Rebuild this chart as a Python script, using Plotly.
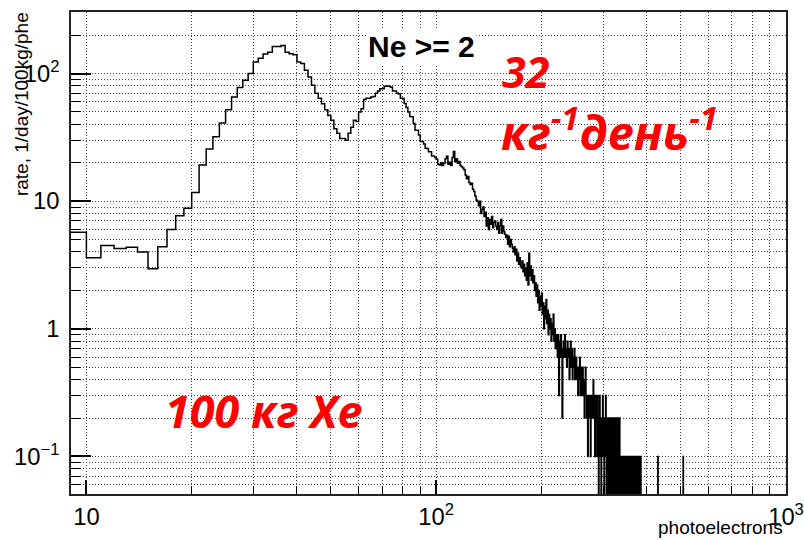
import plotly.graph_objects as go

# ---------------- data (1-phe wide bins, lower edges from 9) ----------------
first_bin = 9
last_edge = 1000

rate_9_19 = [5.7, 3.6, 4.5, 4.25, 4.35, 4.0, 2.95, 4.4, 6.0, 7.7, 8.8]
rate_20_29 = [11.7, 19.2, 25.6, 32, 41, 52, 65.6, 77.6, 88.7, 100]
rate_30_39 = [123, 132, 142, 147, 163, 163, 166, 147, 143, 140]
rate_40_49 = [123, 120, 106, 94, 81, 70, 64, 58, 52, 47]
rate_50_59 = [43, 37, 34, 31, 31, 30, 34, 38, 43, 42]
rate_60_69 = [50, 53, 62.7, 64, 64, 65.6, 66, 70, 73, 76]
rate_70_79 = [76, 79.6, 80, 79.6, 78, 73, 73, 70, 69, 64]
rate_80_89 = [63.8, 58.3, 54.2, 50, 46, 45.8, 40.6, 36, 36, 33]
rate_90_99 = [29.3, 29.3, 28, 26, 25.9, 24.4, 24.4, 22.6, 22.6, 22]
rate_100_109 = [21.3, 19.5, 19.2, 20.0, 19.0, 19.8, 21.5, 22.5, 19.5, 20.2]
rate_110_119 = [19.0, 22.0, 24.5, 20.5, 21.5, 19.8, 20.5, 19.0, 18.6, 18.2]
rate_120_129 = [17.6, 16.0, 15.0, 15.6, 14.0, 13.5, 13.8, 12.4, 11.9, 11.0]
rate_130_139 = [10.2, 10.0, 9.2, 10.0, 8.0, 8.6, 9.0, 7.6, 8.2, 6.4]
rate_140_149 = [7.4, 6.0, 7.2, 6.6, 7.6, 6.2, 6.8, 7.0, 6.4, 6.0]
rate_150_159 = [6.8, 5.6, 6.4, 7.2, 5.6, 6.4, 5.8, 5.5, 5.2, 5.4]
rate_160_169 = [4.6, 5.3, 4.4, 5.0, 4.6, 4.3, 4.0, 4.4, 3.8, 4.2]
rate_170_179 = [3.4, 3.9, 3.2, 3.6, 3.1, 3.0, 3.4, 2.8, 3.2, 2.6]
rate_180_189 = [3.0, 2.4, 3.3, 2.2, 3.9, 2.6, 3.1, 2.4, 2.9, 2.3]
rate_190_199 = [2.6, 2.0, 2.3, 1.8, 2.2, 1.6, 2.0, 1.4, 1.8, 1.5]
rate_200_209 = [1.9, 1.3, 1.6, 1.0, 1.5, 1.2, 1.7, 1.1, 1.4, 0.9]
rate_210_219 = [1.3, 1.0, 1.2, 0.8, 1.1, 0.9, 1.3, 0.8, 1.0, 0.7]
rate_220_229 = [0.9, 0.8, 0.6, 0.9, 0.3, 0.8, 0.6, 0.9, 0.6, 0.2]
rate_230_239 = [0.7, 0.8, 0.6, 0.9, 0.6, 0.7, 0.5, 0.8, 0.6, 0.7]
rate_240_249 = [0.4, 0.6, 0.8, 0.5, 0.7, 0.4, 0.6, 0.5, 0.7, 0.4]
rate_250_259 = [0.5, 0.6, 0.4, 0.5, 0.3, 0.5, 0.4, 0.6, 0.3, 0.5]
rate_260_269 = [0.4, 0.3, 0.5, 0.3, 0.4, 0.2, 0.3, 0.5, 0.3, 0.2]
rate_270_279 = [0.3, 0.1, 0.3, 0.2, 0.3, 0.2, 0.1, 0.3, 0.2, 0.3]
rate_280_289 = [0.2, 0.4, 0.2, 0.3, 0.1, 0.2, 0.3, 0.2, 0.1, 0.3]
rate_290_299 = [0.2, 0.0, 0.2, 0.3, 0.1, 0.2, 0.0, 0.1, 0.2, 0.3]
rate_300_309 = [0.1, 0.2, 0.0, 0.2, 0.1, 0.3, 0.1, 0.0, 0.2, 0.1]
rate_310_319 = [0.2, 0.0, 0.1, 0.2, 0.1, 0.0, 0.2, 0.1, 0.0, 0.1]
rate_320_329 = [0.2, 0.0, 0.2, 0.1, 0.0, 0.2, 0.1, 0.0, 0.2, 0.1]
rate_330_339 = [0.0, 0.2, 0.0, 0.1, 0.2, 0.0, 0.1, 0.0, 0.1, 0.0]
rate_340_349 = [0.1, 0.1, 0.0, 0.1, 0.0, 0.1, 0.1, 0.0, 0.1, 0.0]
rate_350_359 = [0.1, 0.1, 0.0, 0.1, 0.0, 0.1, 0.1, 0.0, 0.1, 0.0]
rate_360_369 = [0.1, 0.1, 0.0, 0.1, 0.1, 0.0, 0.1, 0.0, 0.1, 0.1]
rate_370_379 = [0.0, 0.1, 0.1, 0.0, 0.1, 0.1, 0.0, 0.1, 0.0, 0.1]
rate_380_385 = [0.1, 0.1, 0.0, 0.1, 0.1, 0.0]
# isolated single-count bins further out (lower edge -> rate)
sparse_bins = [430, 508]
sparse_rate = [0.1, 0.1]

# ---------------- build histogram ----------------
dense = (rate_9_19 + rate_20_29 + rate_30_39 + rate_40_49 + rate_50_59 + rate_60_69
         + rate_70_79 + rate_80_89 + rate_90_99 + rate_100_109 + rate_110_119
         + rate_120_129 + rate_130_139 + rate_140_149 + rate_150_159 + rate_160_169
         + rate_170_179 + rate_180_189 + rate_190_199 + rate_200_209 + rate_210_219
         + rate_220_229 + rate_230_239 + rate_240_249 + rate_250_259 + rate_260_269
         + rate_270_279 + rate_280_289 + rate_290_299 + rate_300_309 + rate_310_319
         + rate_320_329 + rate_330_339 + rate_340_349 + rate_350_359 + rate_360_369
         + rate_370_379 + rate_380_385)
nbins = last_edge - first_bin
vals = dense + [0.0] * (nbins - len(dense))
for b, r in zip(sparse_bins, sparse_rate):
    vals[b - first_bin] = r

edges = list(range(first_bin, last_edge + 1))
# empty bins drop below the frame as in ROOT's log display
yplot = [v if v > 0 else 1e-4 for v in vals]
yplot = yplot + [yplot[-1]]

fig = go.Figure()
fig.add_trace(go.Scatter(x=edges, y=yplot, mode="lines",
                         line=dict(shape="hv", color="black", width=1.5),
                         showlegend=False, hoverinfo="skip"))

GRID_COLOR = "#444444"
GRID_DASH = "1px,2px"
tickfont = dict(family="Liberation Sans, Arial, sans-serif", size=19, color="black")

fig.update_xaxes(type="log", range=[0.956, 3.0], tickmode="linear", tick0=0, dtick=1,
                 exponentformat="power", ticks="inside", ticklen=14, tickwidth=1.5,
                 tickcolor="black", showline=True, linecolor="#222", linewidth=1.5,
                 mirror=True, showgrid=True, gridcolor=GRID_COLOR, gridwidth=1,
                 griddash=GRID_DASH, zeroline=False, tickfont=tickfont,
                 ticklabelstandoff=2, automargin=False,
                 minor=dict(dtick="D1", ticks="inside", ticklen=8, tickwidth=1.2,
                            tickcolor="black", showgrid=True, gridcolor=GRID_COLOR,
                            gridwidth=1, griddash=GRID_DASH))
fig.update_yaxes(type="log", range=[-1.294, 2.482], tickmode="linear", tick0=0, dtick=1,
                 exponentformat="power", ticks="inside", ticklen=20, tickwidth=1.5,
                 tickcolor="black", showline=True, linecolor="#222", linewidth=1.5,
                 mirror=True, showgrid=True, gridcolor=GRID_COLOR, gridwidth=1,
                 griddash=GRID_DASH, zeroline=False, tickfont=tickfont,
                 ticklabelstandoff=6, automargin=False,
                 minor=dict(dtick="D1", ticks="inside", ticklen=10, tickwidth=1.2,
                            tickcolor="black", showgrid=True, gridcolor=GRID_COLOR,
                            gridwidth=1, griddash=GRID_DASH))

# white boxes hiding the grid behind the red labels
fig.add_shape(type="rect", xref="paper", yref="paper", x0=0.575, x1=0.996, y0=0.803, y1=0.956,
              fillcolor="white", line=dict(width=0), layer="between")
fig.add_shape(type="rect", xref="paper", yref="paper", x0=0.0993, x1=0.439, y0=0.102, y1=0.253,
              fillcolor="white", line=dict(width=0), layer="between")

red_font = dict(family="Open Sans, sans-serif", size=43, color="#FF0000")
red_font2 = dict(family="Open Sans, sans-serif", size=47, color="#FF0000")
red_font3 = dict(family="Open Sans, sans-serif", size=45, color="#FF0000")
fig.add_annotation(text="rate, 1/day/100kg/phe", textangle=-90, xref="paper", yref="paper",
                   x=-0.0699, y=0.809, xanchor="center", yanchor="middle", showarrow=False,
                   font=dict(family="Liberation Sans, Arial, sans-serif", size=19, color="black"))
fig.add_annotation(text="photoelectrons", xref="paper", yref="paper", x=0.9986, y=-0.0705,
                   xanchor="right", yanchor="middle", showarrow=False,
                   font=dict(family="Liberation Sans, Arial, sans-serif", size=19, color="black"))
fig.add_annotation(text="<b>Ne &gt;= 2</b>", xref="paper", yref="paper", x=0.490, y=0.929,
                   xanchor="center", yanchor="middle", showarrow=False, bgcolor="white",
                   font=dict(family="Liberation Sans, Arial, sans-serif", size=30, color="black"))
fig.add_annotation(text="<b><i>32</i></b>", xref="paper", yref="paper", x=0.600, y=0.876,
                   xanchor="left", yanchor="middle", showarrow=False, font=red_font)
fig.add_annotation(text="<b><i>кг<sup>-1</sup>день<sup>-1</sup></i></b>", xref="paper", yref="paper",
                   x=0.598, y=0.757, xanchor="left", yanchor="middle", showarrow=False, font=red_font2)
fig.add_annotation(text="<b><i>100 кг Xe</i></b>", xref="paper", yref="paper", x=0.270, y=0.174,
                   xanchor="center", yanchor="middle", showarrow=False, font=red_font3)

fig.update_layout(width=804, height=540, margin=dict(l=71, r=18, t=12, b=46, autoexpand=False),
                  paper_bgcolor="white", plot_bgcolor="white", showlegend=False)

fig.write_html("out.html", config={"displayModeBar": False})
